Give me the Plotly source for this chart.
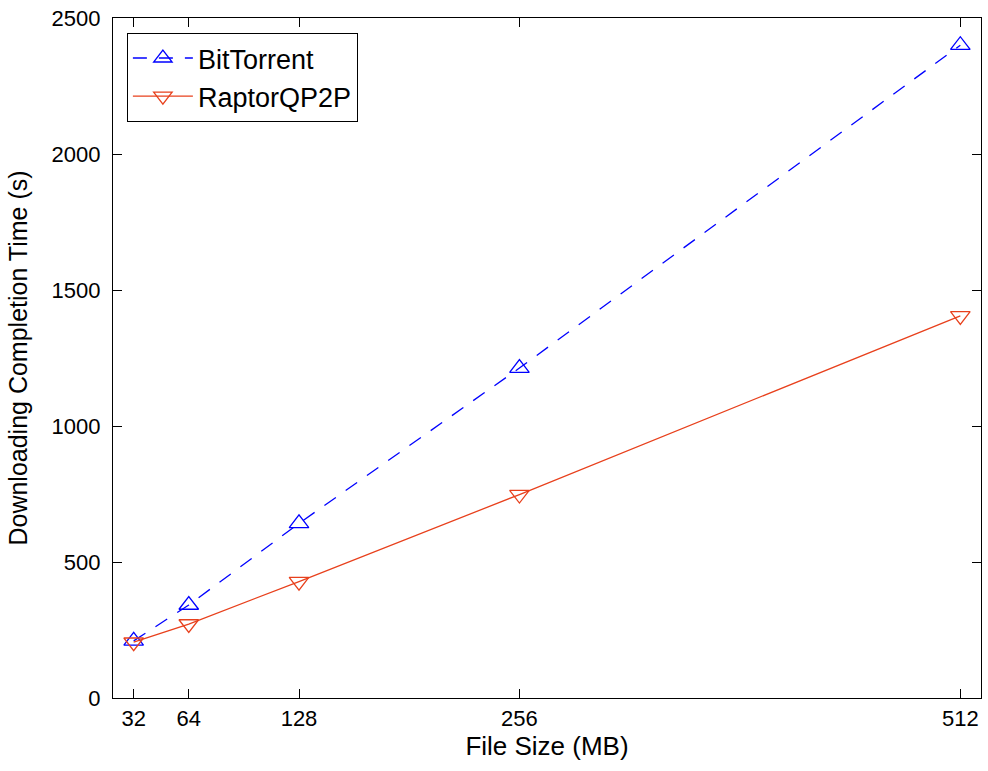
import plotly.graph_objects as go

file_sizes = [32, 64, 128, 256, 512]
bittorrent = [210, 342, 642, 1213, 2400]
raptorqp2p = [205, 272, 428, 748, 1405]
x_ticks = [32, 64, 128, 256, 512]
y_ticks = [0, 500, 1000, 1500, 2000, 2500]

BLUE = "#0000FF"
RED = "#E8401C"
FONT = "Liberation Sans, Arial, sans-serif"

fig = go.Figure()
fig.add_trace(go.Scatter(
    x=file_sizes, y=bittorrent, name="BitTorrent", mode="lines+markers",
    line=dict(color=BLUE, width=1.3, dash="14px,12px"),
    marker=dict(symbol="triangle-up-open", size=17, color=BLUE, line=dict(width=1.3, color=BLUE)),
))
fig.add_trace(go.Scatter(
    x=file_sizes, y=raptorqp2p, name="RaptorQP2P", mode="lines+markers",
    line=dict(color=RED, width=1.3),
    marker=dict(symbol="triangle-down-open", size=17, color=RED, line=dict(width=1.3, color=RED)),
))

axis_common = dict(
    showline=True, linecolor="black", linewidth=1.3, mirror="ticks",
    ticks="inside", ticklen=9, tickwidth=1, tickcolor="black",
    showgrid=False, zeroline=False,
    tickfont=dict(family=FONT, size=22, color="black"),
)

fig.update_layout(
    width=988, height=771,
    margin=dict(l=113, r=6, t=13, b=73),
    paper_bgcolor="white", plot_bgcolor="white",
    font=dict(family=FONT, size=22, color="black"),
    xaxis=dict(range=[20, 524], tickvals=x_ticks, ticktext=[str(v) for v in x_ticks],
               title=dict(text="File Size (MB)", font=dict(family=FONT, size=26), standoff=3),
               **axis_common),
    yaxis=dict(range=[0, 2500], tickvals=y_ticks, ticklabelstandoff=7,
               title=dict(text="Downloading Completion Time (s)", font=dict(family=FONT, size=25), standoff=16),
               **axis_common),
    legend=dict(x=0.016, y=0.978, xanchor="left", yanchor="top",
                bgcolor="white", bordercolor="black", borderwidth=1,
                font=dict(family=FONT, size=27), itemwidth=60, tracegroupgap=0),
    showlegend=True,
)

fig.write_html("out.html")
